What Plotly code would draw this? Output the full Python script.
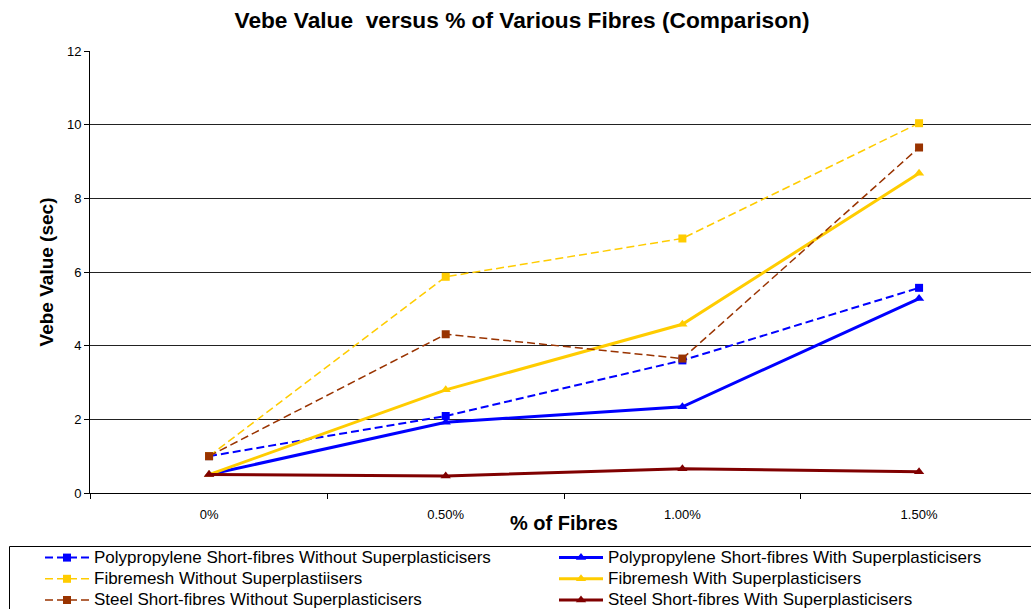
import plotly.graph_objects as go

categories = ["0%", "0.50%", "1.00%", "1.50%"]
y_ticks = [0, 2, 4, 6, 8, 10, 12]

pp_without = [1.0, 2.09, 3.6, 5.57]
pp_with = [0.5, 1.92, 2.34, 5.28]
fm_without = [1.0, 5.87, 6.91, 10.04]
fm_with = [0.5, 2.8, 4.58, 8.68]
steel_without = [1.0, 4.31, 3.65, 9.38]
steel_with = [0.5, 0.46, 0.66, 0.58]

names = [
    "Polypropylene Short-fibres Without Superplasticisers",
    "Polypropylene Short-fibres With Superplasticisers",
    "Fibremesh Without Superplastiisers",
    "Fibremesh With Superplasticisers",
    "Steel Short-fibres Without Superplasticisers",
    "Steel Short-fibres With Superplasticisers",
]

series = [pp_without, pp_with, fm_without, fm_with, steel_without, steel_with]
colors = ["#0000FF", "#0000FF", "#FFCC00", "#FFCC00", "#993300", "#800000"]
dashed = [True, False, True, False, True, False]
widths = [2, 3, 1.5, 3, 1.5, 3]

W, H = 1031, 609
L, R, T, B = 90, 0, 51, 116
PW, PH = W - L - R, H - T - B


def px_x(px):
    return (px - L) / PW


def px_y(py):
    return (H - B - py) / PH


fig = go.Figure()
for name, ys, col, d, w in zip(names, series, colors, dashed, widths):
    fig.add_trace(go.Scatter(
        x=categories, y=ys,
        name='<span style="font-size:17px">' + name + '</span>',
        mode="lines+markers",
        line=dict(color=col, width=w, dash="8px,4px" if d else "solid"),
        marker=dict(symbol="square" if d else "triangle-up",
                    size=8 if d else 9, color=col),
    ))

font_family = "Liberation Sans, Arial, sans-serif"

fig.update_layout(
    width=W, height=H,
    margin=dict(l=L, r=R, t=T, b=B, autoexpand=False),
    paper_bgcolor="white", plot_bgcolor="white",
    font=dict(family=font_family, color="black", size=13),
    title=dict(text="<b>Vebe Value \u00a0versus % of Various Fibres (Comparison)</b>",
               x=522 / W, xref="container", xanchor="center",
               y=1 - 20 / H, yref="container", yanchor="middle",
               font=dict(size=22.7, family=font_family, color="black")),
    showlegend=True,
    legend=dict(orientation="h", x=px_x(40), xanchor="left",
                y=px_y(542), yanchor="top",
                entrywidth=455, entrywidthmode="pixels", itemwidth=44,
                font=dict(size=14, family=font_family, color="black"),
                borderwidth=0, bgcolor="rgba(0,0,0,0)",
                traceorder="normal"),
    annotations=[dict(text="<b>% of Fibres</b>", x=px_x(564), y=px_y(523),
                      xref="paper", yref="paper", showarrow=False,
                      font=dict(size=20, family=font_family, color="black"),
                      xanchor="center", yanchor="middle")],
    shapes=[dict(type="rect", xref="paper", yref="paper",
                 x0=px_x(9.5), x1=px_x(1045), y0=px_y(546.5), y1=px_y(625),
                 line=dict(color="black", width=1), fillcolor="rgba(0,0,0,0)",
                 layer="below")],
)

fig.update_xaxes(
    type="category", categoryorder="array", categoryarray=categories,
    range=[-0.503, 3.473],
    showline=True, linecolor="black", linewidth=1,
    ticks="outside", tickson="boundaries", ticklen=5, tickcolor="black",
    showgrid=False, zeroline=False,
    ticklabelstandoff=9,
    tickfont=dict(size=13, family=font_family, color="black"),
)
fig.update_yaxes(
    range=[0, 12], tickvals=y_ticks,
    showline=True, linecolor="black", linewidth=1,
    ticks="outside", ticklen=5, tickcolor="black",
    showgrid=True, gridcolor="#222222", gridwidth=1, zeroline=False,
    tickfont=dict(size=13, family=font_family, color="black"),
    title=dict(text="<b>Vebe Value (sec)</b>", standoff=8,
               font=dict(size=19, family=font_family, color="black")),
)

fig.write_html("out.html")
